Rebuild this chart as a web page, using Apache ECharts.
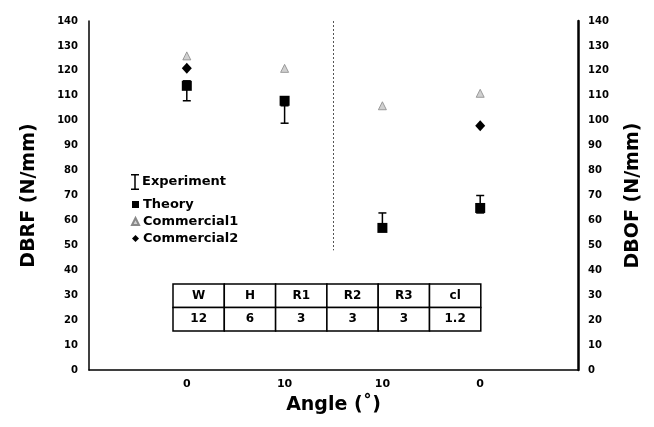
<!DOCTYPE html>
<html><head><meta charset="utf-8">
<script src="https://cdn.jsdelivr.net/npm/echarts@6/dist/echarts.min.js"></script>
<style>html,body{margin:0;padding:0;background:#fff}#c{width:654px;height:427px}</style>
</head><body><div id="c"></div>
<script>
const tickLabels = ['', '0', '10', '10', '0', ''];
const xPos = [1, 2, 3, 4];
const theory = [114, 108, 57, 65];
const commercial1 = [126, 121, 106, 111];
const commercial2 = [121, null, null, 98];
const expLow = [108, 99, 58, 63];
const expHigh = [116, 106, 63, 70];
const tableHead = ['W', 'H', 'R1', 'R2', 'R3', 'cl'];
const tableVals = ['12', '6', '3', '3', '3', '1.2'];

const FONT = 'DejaVu Sans';
const chart = echarts.init(document.getElementById('c'));

const expData = xPos.map((x, i) => [x, expLow[i], expHigh[i]]);
const pair = arr => xPos.map((x, i) => [x, arr[i]]).filter(d => d[1] != null);

// table graphic
const tbl = [];
const tx = 173, ty = 284, cw = 51.3, rh = 23.5;
for (let r = 0; r < 2; r++) {
  const row = r === 0 ? tableHead : tableVals;
  row.forEach((t, c) => {
    tbl.push({type: 'rect', shape: {x: tx + c * cw, y: ty + r * rh, width: cw, height: rh},
      style: {fill: '#fff', stroke: '#000', lineWidth: 1.5}});
    tbl.push({type: 'text', x: tx + c * cw + cw / 2, y: ty + r * rh + rh / 2,
      style: {text: t, font: 'bold 12px ' + FONT, fill: '#000', align: 'center', verticalAlign: 'middle'}});
  });
}

const ibeam = 'path://M0,0L8,0L8,1.5L4.75,1.5L4.75,14.5L8,14.5L8,16L0,16L0,14.5L3.25,14.5L3.25,1.5L0,1.5Z';

chart.setOption({
  animation: false,
  grid: {left: 89, right: 76, top: 21, bottom: 57},
  xAxis: {
    type: 'value', min: 0, max: 5, interval: 1,
    axisLine: {lineStyle: {color: '#000', width: 1.5}},
    axisTick: {show: false}, splitLine: {show: false},
    axisLabel: {formatter: v => tickLabels[v] || '', color: '#000', fontFamily: FONT, fontWeight: 'bold', fontSize: 11, margin: 9},
    name: 'Angle (˚)', nameLocation: 'middle', nameGap: 26,
    nameTextStyle: {color: '#000', fontFamily: FONT, fontWeight: 'bold', fontSize: 19}
  },
  yAxis: [{
    type: 'value', min: 0, max: 140, interval: 10, position: 'left',
    axisLine: {show: true, lineStyle: {color: '#000', width: 1.5}},
    axisTick: {show: false}, splitLine: {show: false},
    axisLabel: {color: '#000', fontFamily: FONT, fontWeight: 'bold', fontSize: 10, margin: 11},
    name: 'DBRF (N/mm)', nameLocation: 'middle', nameGap: 50, nameRotate: 90,
    nameTextStyle: {color: '#000', fontFamily: FONT, fontWeight: 'bold', fontSize: 19}
  }, {
    type: 'value', min: 0, max: 140, interval: 10, position: 'right',
    axisLine: {show: true, lineStyle: {color: '#000', width: 2.5}},
    axisTick: {show: false}, splitLine: {show: false},
    axisLabel: {color: '#000', fontFamily: FONT, fontWeight: 'bold', fontSize: 10, margin: 10},
    name: 'DBOF (N/mm)', nameLocation: 'middle', nameGap: 46, nameRotate: 90,
    nameTextStyle: {color: '#000', fontFamily: FONT, fontWeight: 'bold', fontSize: 19}
  }],
  legend: [{
    data: [{name: 'Experiment', icon: ibeam}],
    left: 126, top: 169, itemWidth: 8, itemHeight: 16, itemGap: 4,
    textStyle: {color: '#000', fontFamily: FONT, fontWeight: 'bold', fontSize: 13, padding: [0, 0, 0, -2]}
  }, {
    data: [{name: 'Theory', icon: 'rect'}, {name: 'Commercial1', icon: 'triangle'}, {name: 'Commercial2', icon: 'diamond'}],
    orient: 'vertical', left: 126, top: 193, itemWidth: 7, itemHeight: 7, itemGap: 4,
    textStyle: {color: '#000', fontFamily: FONT, fontWeight: 'bold', fontSize: 13, padding: [0, 0, 0, -1]}
  }],
  graphic: tbl,
  series: [{
    name: 'Experiment', type: 'custom', data: expData,
    itemStyle: {color: '#000'},
    encode: {x: 0, y: [1, 2]},
    renderItem: (params, api) => {
      const x = api.value(0);
      const lo = api.coord([x, api.value(1)]);
      const hi = api.coord([x, api.value(2)]);
      const hw = 4;
      const st = {stroke: '#000', lineWidth: 1.5, fill: null};
      return {type: 'group', children: [
        {type: 'line', shape: {x1: lo[0], y1: lo[1], x2: hi[0], y2: hi[1]}, style: st},
        {type: 'line', shape: {x1: lo[0] - hw, y1: lo[1], x2: lo[0] + hw, y2: lo[1]}, style: st},
        {type: 'line', shape: {x1: hi[0] - hw, y1: hi[1], x2: hi[0] + hw, y2: hi[1]}, style: st}
      ]};
    },
    markLine: {
      silent: true, symbol: 'none', label: {show: false},
      lineStyle: {color: '#555', type: [2, 2], width: 1},
      data: [[{coord: [2.5, 140]}, {coord: [2.5, 48]}]]
    }
  }, {
    name: 'Theory', type: 'scatter', data: pair(theory),
    symbol: 'rect', symbolSize: 10, itemStyle: {color: '#000', opacity: 1}, z: 3
  }, {
    name: 'Commercial1', type: 'scatter', data: pair(commercial1),
    symbol: 'triangle', symbolSize: [8, 8], itemStyle: {color: '#d0d0d0', borderColor: '#888', borderWidth: 0.8, opacity: 1}
  }, {
    name: 'Commercial2', type: 'scatter', data: pair(commercial2),
    symbol: 'diamond', symbolSize: [10, 11], itemStyle: {color: '#000', opacity: 1}
  }]
});
</script></body></html>
